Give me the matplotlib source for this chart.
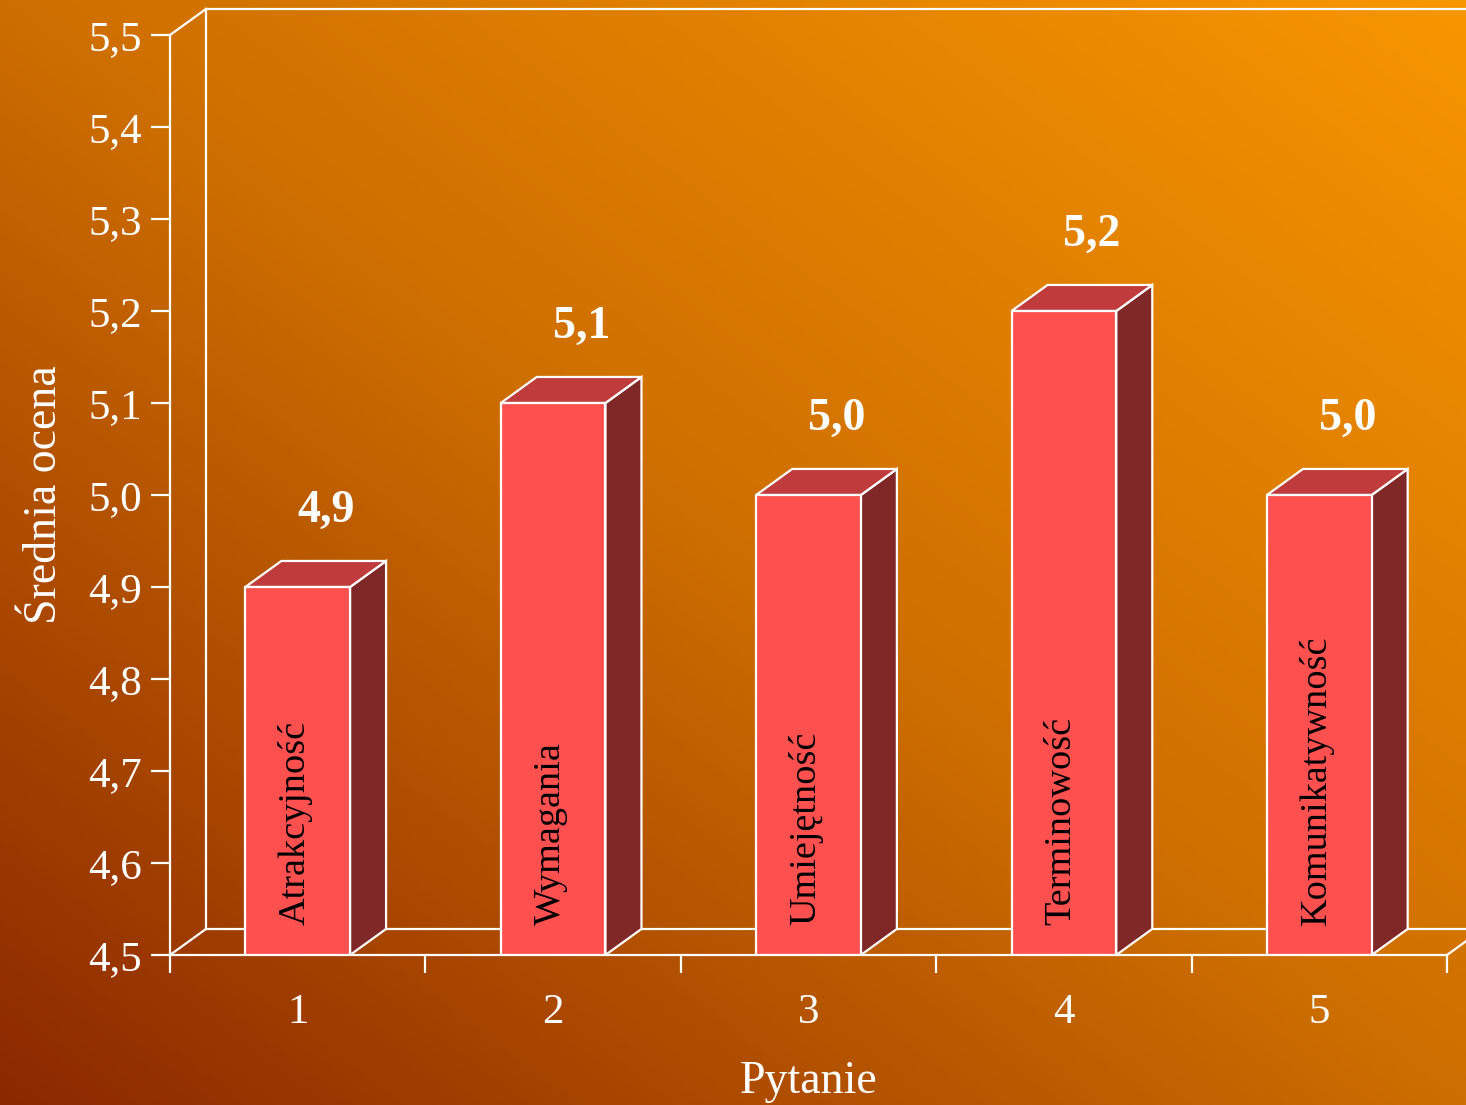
import numpy as np
import matplotlib
matplotlib.use("Agg")
import matplotlib.pyplot as plt
from matplotlib.patches import Polygon
from matplotlib.colors import LinearSegmentedColormap

# data
pytania = [1, 2, 3, 4, 5]
oceny = [4.9, 5.1, 5.0, 5.2, 5.0]
nazwy = ["Atrakcyjność", "Wymagania", "Umiejętność", "Terminowość", "Komunikatywność"]
etykiety = ["4,9", "5,1", "5,0", "5,2", "5,0"]
yticks = [4.5, 4.6, 4.7, 4.8, 4.9, 5.0, 5.1, 5.2, 5.3, 5.4, 5.5]

plt.rcParams['font.family'] = ['Liberation Serif', 'DejaVu Serif']

fig = plt.figure(figsize=(14.66, 11.05), dpi=100)

# gradient background (bottom-left dark -> top-right orange)
bg = fig.add_axes([0, 0, 1, 1], zorder=0)
bg.axis("off")
xx, yy = np.meshgrid(np.linspace(0, 1, 400), np.linspace(0, 1, 300))
t = (xx + yy) / 2
cmap = LinearSegmentedColormap.from_list("bg", ["#8c2800", "#cd6e00", "#f89600"])
bg.imshow(t, cmap=cmap, origin="lower", aspect="auto", extent=[0, 1, 0, 1])

ax = fig.add_axes([170 / 1466, 150 / 1105, 1277 / 1466, 920 / 1105], zorder=1)
ax.set_facecolor("none")
ax.set_xlim(0.5, 5.5)
ax.set_ylim(4.5, 5.5)

lc = "white"
lw = 1.6
dx, dy = 0.141, 0.0283  # depth offset

for s in ["top", "right"]:
    ax.spines[s].set_visible(False)
for s in ["left", "bottom"]:
    ax.spines[s].set_color(lc)
    ax.spines[s].set_linewidth(lw)

# back wall and floor
kw = dict(color=lc, lw=lw, clip_on=False, zorder=1)
ax.plot([0.5 + dx, 0.5 + dx], [4.5 + dy, 5.5 + dy], **kw)
ax.plot([0.5 + dx, 5.5 + dx], [5.5 + dy, 5.5 + dy], **kw)
ax.plot([0.5, 0.5 + dx], [5.5, 5.5 + dy], **kw)
ax.plot([0.5 + dx, 5.5 + dx], [4.5 + dy, 4.5 + dy], **kw)
ax.plot([0.5, 0.5 + dx], [4.5, 4.5 + dy], **kw)
ax.plot([5.5, 5.5 + dx], [4.5, 4.5 + dy], **kw)

w = 0.41
for x, v, n, e in zip(pytania, oceny, nazwy, etykiety):
    x0, x1 = x - w / 2, x + w / 2
    ax.bar(x, v - 4.5, bottom=4.5, width=w, color="#ff5050",
           edgecolor=lc, linewidth=lw, zorder=3)
    side = [(x1, 4.5), (x1 + dx, 4.5 + dy), (x1 + dx, v + dy), (x1, v)]
    top = [(x0, v), (x0 + dx, v + dy), (x1 + dx, v + dy), (x1, v)]
    ax.add_patch(Polygon(side, closed=True, facecolor="#802828",
                         edgecolor=lc, lw=lw, zorder=2))
    ax.add_patch(Polygon(top, closed=True, facecolor="#c03c3c",
                         edgecolor=lc, lw=lw, zorder=2))
    ax.text(x - 0.01, 4.533, n, rotation=90, ha="center", va="bottom",
            fontsize=27.5, color="black", zorder=4)
    ax.text(x + 0.11, v + 0.083, e, ha="center", va="center",
            fontsize=33, fontweight="bold", color="white", zorder=4)

ax.set_yticks(yticks)
ax.set_yticklabels([f"{y:.1f}".replace(".", ",") for y in yticks])
ax.tick_params(axis="y", colors=lc, labelsize=31, length=14, width=lw, pad=6)

ax.set_xticks([0.5, 1.5, 2.5, 3.5, 4.5, 5.5])
ax.set_xticklabels([])
ax.tick_params(axis="x", which="major", colors=lc, length=13, width=lw)
ax.set_xticks(pytania, minor=True)
ax.set_xticklabels([str(p) for p in pytania], minor=True)
ax.tick_params(axis="x", which="minor", length=0, labelsize=31,
               labelcolor=lc, pad=28)

ax.set_ylabel("Średnia ocena", fontsize=33, color=lc, labelpad=16)
ax.set_xlabel("Pytanie", fontsize=33, color=lc, labelpad=20)

fig.savefig("out.png", dpi=100)
